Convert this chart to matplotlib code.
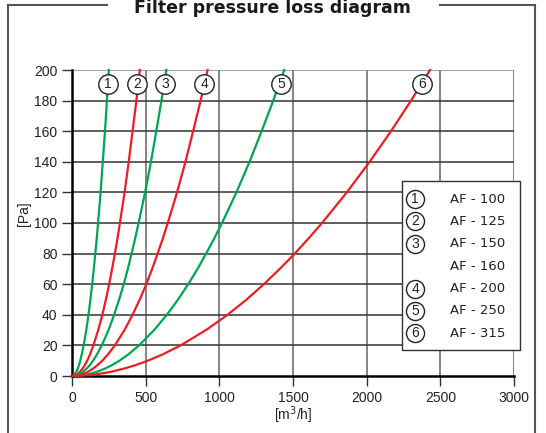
import matplotlib.pyplot as plt
from matplotlib.patches import Rectangle
from matplotlib.lines import Line2D

# pressure levels [Pa] and flow [m3/h]
pressure = [0, 0.5, 1, 2, 3, 5, 7, 10, 14, 20, 30, 40, 50, 60, 70, 80, 90, 100, 120, 140, 160, 180, 200]
flow_1 = [0, 12.5, 18, 25, 31, 40, 47, 56, 66, 79, 97, 112, 125, 137, 148, 158, 168, 177, 194, 209, 224, 237, 250]
flow_2 = [0, 23, 33, 46, 56, 73, 86, 103, 122, 145, 178, 206, 230, 252, 272, 291, 309, 325, 357, 385, 411, 437, 460]
flow_3 = [0, 32, 45, 64, 78, 101, 120, 143, 169, 202, 248, 286, 320, 351, 379, 404, 429, 452, 496, 536, 572, 607, 640]
flow_4 = [0, 46, 65, 92, 113, 145, 172, 206, 243, 291, 356, 411, 460, 504, 544, 581, 617, 650, 713, 770, 822, 873, 920]
flow_5 = [0, 72, 102, 144, 176, 228, 269, 322, 381, 455, 557, 644, 720, 789, 852, 910, 966, 1018, 1116, 1205, 1287, 1366, 1440]
flow_6 = [0, 109, 156, 223, 276, 359, 428, 515, 613, 737, 909, 1056, 1185, 1302, 1410, 1512, 1606, 1697, 1865, 2020, 2165, 2301, 2430]

curve_ids = ["1", "2", "3", "4", "5", "6"]
label_flow = [246, 441, 631, 896, 1419, 2376]
label_p = 191
legend_ids = ["1", "2", "3", "", "4", "5", "6"]
legend_names = ["AF - 100", "AF - 125", "AF - 150", "AF - 160", "AF - 200", "AF - 250", "AF - 315"]

green = "#00a650"
red = "#ee1c25"

fig = plt.figure(figsize=(5.46, 4.33), dpi=100)
W, H = 546, 433

# outer frame with title gap
frame = dict(color="#555555", lw=1.5, transform=fig.transFigure, clip_on=False)
fig.add_artist(Line2D([8 / W, 8 / W], [0, 1 - 5 / H], **frame))
fig.add_artist(Line2D([8 / W, 107 / W], [1 - 5 / H, 1 - 5 / H], **frame))
fig.add_artist(Line2D([440 / W, 535 / W], [1 - 5 / H, 1 - 5 / H], **frame))
fig.add_artist(Line2D([535 / W, 535 / W], [0, 1 - 5 / H], **frame))
fig.text(272 / W, 1 - 8 / H, "Filter pressure loss diagram", ha="center", va="center",
         fontsize=12.5, fontweight="bold", color="#1a1a1a", family="DejaVu Sans")

ax = fig.add_axes([72 / W, (H - 376) / H, 442 / W, 306 / H])
ax.set_xlim(0, 3000)
ax.set_ylim(0, 200)
ax.set_xticks(range(0, 3001, 500))
ax.set_yticks(range(0, 201, 20))

for x in range(500, 3001, 500):
    ax.axvline(x, color="#707070", lw=1.2, zorder=1)
for y in range(20, 201, 20):
    ax.axhline(y, color="#333333" if y < 200 else "#888888", lw=1.1, zorder=1)

for s in ["top", "right"]:
    ax.spines[s].set_visible(False)
ax.spines["left"].set_linewidth(1.8)
ax.spines["bottom"].set_linewidth(1.8)
ax.tick_params(direction="out", length=7, width=1, color="#333333",
               labelsize=10, labelcolor="#222222")
for lab in ax.get_xticklabels() + ax.get_yticklabels():
    lab.set_family("Liberation Sans")

flows = [flow_1, flow_2, flow_3, flow_4, flow_5, flow_6]
for i, f in enumerate(flows):
    ax.plot(f, pressure, color=green if i % 2 == 0 else red, lw=1.6, zorder=3, clip_on=False)

for cid, q in zip(curve_ids, label_flow):
    ax.plot(q, label_p, "o", ms=14, mfc="white", mec="#222222", mew=1, zorder=4)
    ax.text(q, label_p, cid, ha="center", va="center", fontsize=10, color="#222222",
            family="Liberation Sans", zorder=5)

ax.set_xlabel("[m$^3$/h]", fontsize=10, family="Liberation Sans", color="#222222", labelpad=0)
fig.text(24 / W, 1 - 214 / H, "[Pa]", rotation=90, ha="center", va="center",
         fontsize=10, family="Liberation Sans", color="#222222")

# legend box
fig.add_artist(Rectangle((402 / W, 1 - 350 / H), 118 / W, 169 / H, transform=fig.transFigure,
                         facecolor="white", edgecolor="#333333", lw=1, zorder=10))
for k, (cid, name) in enumerate(zip(legend_ids, legend_names)):
    yy = 1 - (199 + k * 22.4) / H
    if cid:
        fig.add_artist(Line2D([415 / W], [yy], marker="o", ms=13, mfc="white", mec="#222222",
                              mew=1, transform=fig.transFigure, zorder=11))
        fig.text(415 / W, yy, cid, ha="center", va="center", fontsize=10,
                 family="Liberation Sans", color="#222222", zorder=12)
    fig.text(450 / W, yy, name, ha="left", va="center", fontsize=9.5,
             family="DejaVu Sans", color="#222222", zorder=12)

fig.savefig("out.png", dpi=100)
